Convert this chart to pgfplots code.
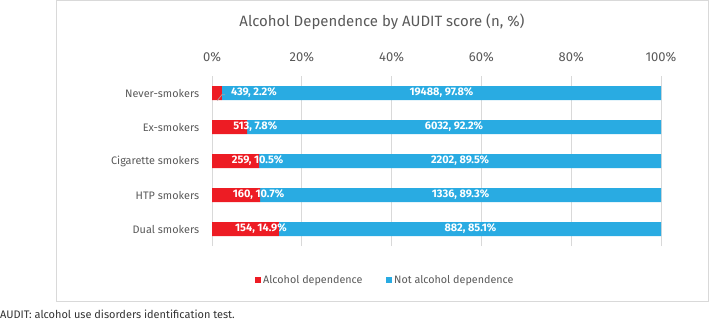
\documentclass[border=0pt]{standalone}
\usepackage{pgfplots}
\pgfplotsset{compat=1.18}
\usepackage{fontspec}
\setmainfont{Fira Sans}
\definecolor{adred}{RGB}{237,28,36}
\definecolor{adblue}{RGB}{41,171,226}
\definecolor{txtgray}{RGB}{89,89,89}
\definecolor{gridgray}{RGB}{217,217,217}
\pgfplotsset{
  samebox/.style={at={(212bp,75bp)}, anchor=south west, scale only axis,
    width=449bp, height=170bp, xmin=0, xmax=100, ymin=-0.5, ymax=4.5, clip=false},
  lbl/.style={draw=none, mark=none, point meta=explicit symbolic, nodes near coords,
    every node near coord/.style={text=white, font=\bfseries\fontsize{11}{13}\selectfont, inner sep=0pt, anchor=#1}},
}
\begin{document}
\begin{tikzpicture}[x=1bp,y=1bp]
\useasboundingbox (0,0) rectangle (712,321);
\draw[gridgray, line width=0.9bp] (56.7,20) rectangle (708.3,320.5);
\node[txtgray, font=\fontsize{15}{18}\selectfont] at (382,299) {Alcohol Dependence by AUDIT score (n, \%)};
\node[anchor=base west, inner sep=0pt, text=black!80, font=\fontsize{11}{13}\selectfont] at (0,3) {AUDIT: alcohol use disorders identification test.};
\begin{axis}[
  samebox,
  xbar stacked, bar width=14bp,
  xtick={0,20,40,60,80,100},
  xticklabels={0\%,20\%,40\%,60\%,80\%,100\%},
  xticklabel pos=upper,
  xticklabel style={anchor=center, yshift=18.5bp, inner sep=0pt, text=txtgray, font=\fontsize{13}{15}\selectfont},
  ytick={0,1,2,3,4},
  yticklabels={Dual smokers, HTP smokers, Cigarette smokers, Ex-smokers, Never-smokers},
  yticklabel style={anchor=east, inner sep=0pt, xshift=-12.7bp, text=txtgray, font=\fontsize{10.9}{13}\selectfont},
  xmajorgrids, grid style={gridgray, line width=0.8bp},
  axis line style={draw=none}, major tick length=0pt,
  legend style={draw=none, fill=none, at={(axis description cs:0.3853,-0.2)}, anchor=center,
    legend columns=2, font=\fontsize{10.8}{12}\selectfont, text=txtgray,
    /tikz/every even column/.append style={column sep=21bp}},
  legend image code/.code={\fill[#1] (0bp,-3bp) rectangle (6.7bp,3bp);},
]
\addplot[fill=adred, draw=none] coordinates {(2.2,4) (7.8,3) (10.5,2) (10.7,1) (14.9,0)};
\addlegendentry{Alcohol dependence}
\addplot[fill=adblue, draw=none] coordinates {(97.8,4) (92.2,3) (89.5,2) (89.3,1) (85.1,0)};
\addlegendentry{Not alcohol dependence}
\end{axis}
\begin{axis}[samebox, hide axis]
\addplot[black!35, line width=0.7bp, mark=none] coordinates {(1.2,3.78) (2.2,3.95) (2.9,3.95)};
\addplot[lbl=west] coordinates {(4.2,4) [439, 2.2\%] (4.7,3) [513, 7.8\%] (4.4,2) [259, 10.5\%] (4.6,1) [160, 10.7\%] (5.1,0) [154, 14.9\%]};
\addplot[lbl=center] coordinates {(51.1,4) [19488, 97.8\%] (53.9,3) [6032, 92.2\%] (55.25,2) [2202, 89.5\%] (55.35,1) [1336, 89.3\%] (57.55,0) [882, 85.1\%]};
\end{axis}
\end{tikzpicture}
\end{document}
